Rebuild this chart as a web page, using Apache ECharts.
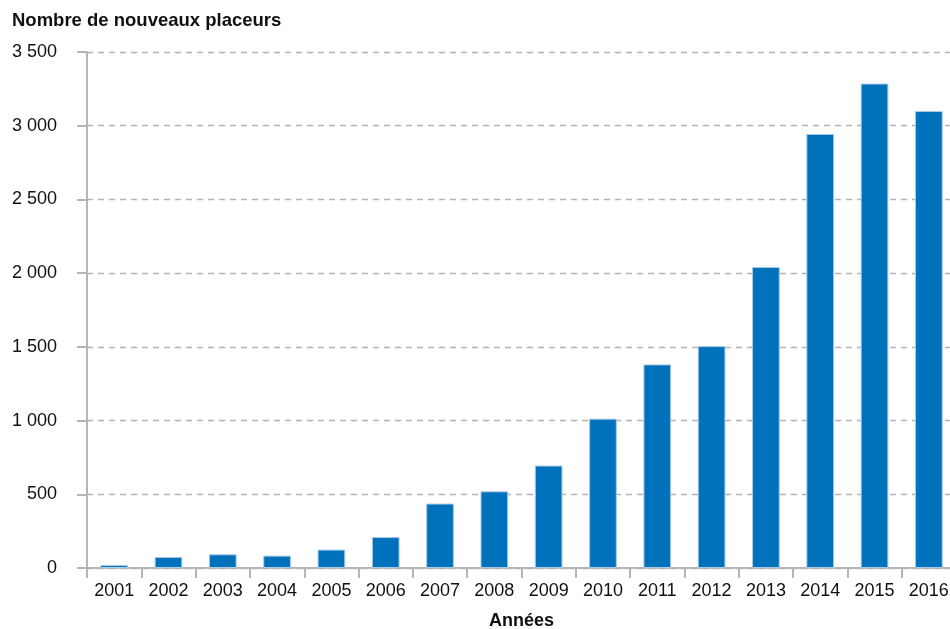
<!DOCTYPE html>
<html>
<head>
<meta charset="utf-8">
<script src="https://cdn.jsdelivr.net/npm/echarts@6/dist/echarts.min.js"></script>
<style>html,body{margin:0;padding:0;background:#fff}#c{width:950px;height:629px}</style>
</head>
<body>
<div id="c"></div>
<script>
const years = ['2001','2002','2003','2004','2005','2006','2007','2008','2009','2010','2011','2012','2013','2014','2015','2016'];
const nouveauxPlaceurs = [20, 75, 93, 84, 125, 210, 437, 520, 695, 1013, 1381, 1505, 2042, 2944, 3286, 3100];
const yTitle = 'Nombre de nouveaux placeurs';
const xTitle = 'Années';

const chart = echarts.init(document.getElementById('c'));
const font = 'Liberation Sans, Arial, sans-serif';
chart.setOption({
  animation: false,
  title: {
    text: yTitle, left: 7, top: 6,
    textStyle: {fontFamily: font, fontSize: 18.5, fontWeight: 'bold', color: '#111'}
  },
  grid: {left: 87, top: 52, width: 869, height: 516, containLabel: false, outerBoundsMode: 'none'},
  xAxis: {
    type: 'category', data: years,
    name: xTitle, nameLocation: 'middle', nameGap: 44,
    nameTextStyle: {fontFamily: font, fontSize: 18, fontWeight: 'bold', color: '#111'},
    axisLine: {lineStyle: {color: '#b5b5b5', width: 2}},
    axisTick: {show: true, length: 10, lineStyle: {color: '#b5b5b5', width: 2}},
    axisLabel: {fontFamily: font, fontSize: 18, color: '#111', margin: 14}
  },
  yAxis: {
    type: 'value', min: 0, max: 3500, interval: 500,
    axisLine: {show: true, lineStyle: {color: '#b5b5b5', width: 2}},
    axisTick: {show: true, length: 10, lineStyle: {color: '#b5b5b5', width: 2}},
    axisLabel: {
      fontFamily: font, fontSize: 18, color: '#111', margin: 30,
      formatter: v => String(v).replace(/\B(?=(\d{3})+(?!\d))/g, ' ')
    },
    splitLine: {lineStyle: {color: '#b3b3b3', type: [6, 5], width: 1.3}}
  },
  series: [{
    type: 'bar', data: nouveauxPlaceurs, barWidth: '51%',
    itemStyle: {color: '#0072bb', borderColor: '#a9c9e4', borderWidth: 1}
  }]
});
</script>
</body>
</html>
